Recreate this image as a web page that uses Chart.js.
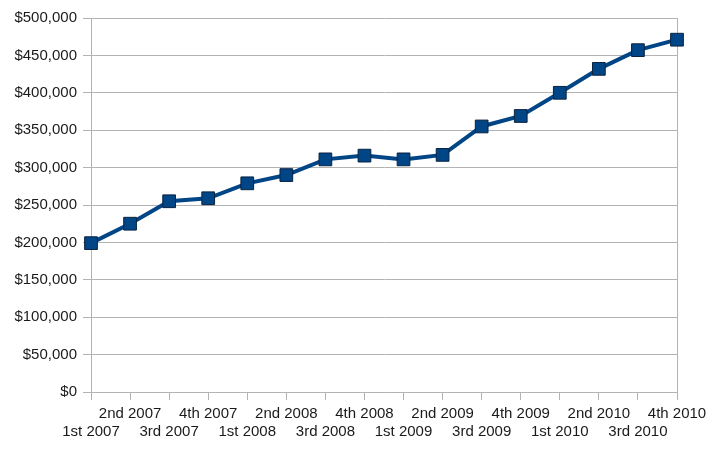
<!DOCTYPE html>
<html>
<head>
<meta charset="utf-8">
<script src="https://cdn.jsdelivr.net/npm/chart.js@4"></script>
<style>
  html, body { margin: 0; padding: 0; background: #fff; }
  #wrap { width: 720px; height: 450px; }
</style>
</head>
<body>
<div id="wrap"><canvas id="myChart" width="720" height="450"></canvas></div>
<script>
// quarters and values
const quarters = [
  "1st 2007", "2nd 2007", "3rd 2007", "4th 2007",
  "1st 2008", "2nd 2008", "3rd 2008", "4th 2008",
  "1st 2009", "2nd 2009", "3rd 2009", "4th 2009",
  "1st 2010", "2nd 2010", "3rd 2010", "4th 2010",
];
const amounts = [
  199000, 225000, 255000, 259000,
  279000, 290000, 311000, 316000,
  311000, 317000, 355000, 369000,
  400000, 432000, 457000, 471000,
];
const yTicks = [0, 50000, 100000, 150000, 200000, 250000, 300000, 350000, 400000, 450000, 500000];

const setup = () => {
  const gridColor = "#b3b3b3";
  const textColor = "#1a1a1a";
  const font = { family: "'Liberation Sans', Arial, sans-serif", size: 15 };

  const data = {
    labels: quarters,
    datasets: [
      {
        label: "Value",
        data: amounts,
        borderColor: "#004586",
        backgroundColor: "#004586",
        borderWidth: 4,
        pointStyle: "rect",
        pointRadius: 9,
        pointBorderColor: "#0a2340",
        pointBorderWidth: 1,
        pointBackgroundColor: "#004586",
        tension: 0,
      },
    ],
  };

  const config = {
    type: "line",
    data: data,
    options: {
      responsive: false,
      animation: false,
      layout: { padding: { top: 18, right: 43, left: 0, bottom: 0 } },
      plugins: { legend: { display: false }, tooltip: { enabled: false } },
      scales: {
        x: {
          offset: false,
          grid: { drawOnChartArea: false, drawTicks: true, tickLength: 8, color: gridColor },
          border: { color: gridColor },
          ticks: {
            autoSkip: false,
            maxRotation: 0,
            minRotation: 0,
            color: textColor,
            font: font,
            padding: 5,
            // staggered labels: odd quarters on the first row, even on the second
            callback: function (value, index) {
              const lbl = quarters[index];
              return index % 2 === 0 ? ["", lbl] : [lbl];
            },
          },
          afterFit: (scale) => { scale.height = 58; },
        },
        y: {
          min: 0,
          max: 500000,
          grid: { color: gridColor, tickLength: 8 },
          border: { color: gridColor },
          afterBuildTicks: (scale) => { scale.ticks = yTicks.map((v) => ({ value: v })); },
          ticks: {
            color: textColor,
            font: font,
            padding: 6,
            callback: (v) => "$" + v.toLocaleString("en-US"),
          },
          afterFit: (scale) => { scale.width = 91; },
        },
        y2: {
          position: "right",
          min: 0,
          max: 500000,
          grid: { display: false },
          border: { display: true, color: gridColor },
          ticks: { display: false },
          afterFit: (scale) => { scale.width = 0; },
        },
      },
    },
  };

  const myChart = new Chart(document.getElementById("myChart"), config);
};

setup();
</script>
</body>
</html>
